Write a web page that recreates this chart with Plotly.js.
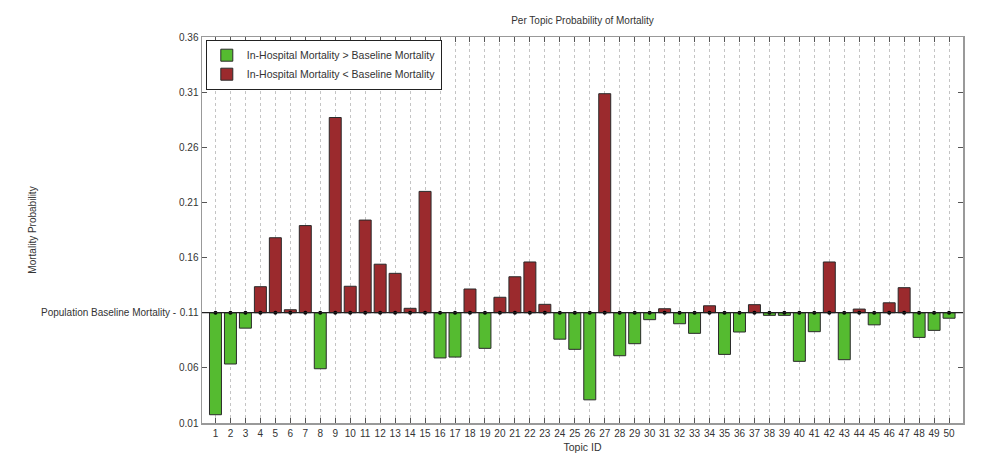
<!DOCTYPE html>
<html>
<head>
<meta charset="utf-8">
<script src="https://cdn.plot.ly/plotly-3.0.1.min.js"></script>
<style>html,body{margin:0;padding:0;background:#fff;}#chart{width:981px;height:455px;}</style>
</head>
<body>
<div id="chart"></div>
<script>
const topics = [];
for (let i = 1; i <= 50; i++) topics.push(i);
const mortality = [
  0.0175, 0.0635, 0.096, 0.1336, 0.178, 0.1127, 0.189, 0.0592, 0.287, 0.134,
  0.194, 0.154, 0.1457, 0.114, 0.220, 0.069, 0.0698, 0.1315, 0.0777, 0.124,
  0.1426, 0.156, 0.1176, 0.086, 0.0768, 0.031, 0.3086, 0.071, 0.0819, 0.1037,
  0.1136, 0.100, 0.0913, 0.1163, 0.0722, 0.0925, 0.1173, 0.1076, 0.1076, 0.0659,
  0.0928, 0.156, 0.0674, 0.1133, 0.099, 0.119, 0.1327, 0.0876, 0.094, 0.105
];
const baseline = 0.11;
const baselineLabel = 'Population Baseline Mortality -';
const yTickVals = [0.01, 0.06, 0.11, 0.16, 0.21, 0.26, 0.31, 0.36];
const yTickText = ['0.01', '0.06', '0.11', '0.16', '0.21', '0.26', '0.31', '0.36'];
const seriesNames = ['In-Hospital Mortality > Baseline Mortality', 'In-Hospital Mortality < Baseline Mortality'];

const lowX = [], lowY = [], highX = [], highY = [];
topics.forEach((t, i) => {
  const d = mortality[i] - baseline;
  if (d < 0) { lowX.push(t); lowY.push(d); } else { highX.push(t); highY.push(d); }
});

const barLine = {color: '#2a2a2a', width: 1};
const traces = [
  {type: 'bar', x: lowX, y: lowY, base: baseline, width: 0.8, name: seriesNames[0],
   marker: {color: '#55bb30', line: barLine}},
  {type: 'bar', x: highX, y: highY, base: baseline, width: 0.8, name: seriesNames[1],
   marker: {color: '#9b2a2d', line: barLine}},
  {type: 'scatter', mode: 'markers', x: topics, y: topics.map(() => baseline), showlegend: false,
   marker: {color: '#000', size: 4}, hoverinfo: 'skip'}
];

const fam = 'Liberation Sans, Arial, sans-serif';
const layout = {
  width: 981, height: 455,
  margin: {l: 202, r: 18, t: 37, b: 32, pad: 0},
  paper_bgcolor: '#fff', plot_bgcolor: '#fff',
  font: {family: fam, size: 10, color: '#333'},
  barmode: 'overlay',
  showlegend: true,
  title: {text: 'Per Topic Probability of Mortality', font: {family: fam, size: 10, color: '#333'},
          x: 0.5, xref: 'paper', y: 1, yref: 'container', yanchor: 'top', pad: {t: 17}},
  legend: {x: 0.005, y: 0.993, xanchor: 'left', yanchor: 'top', bgcolor: '#fff',
           bordercolor: '#222', borderwidth: 1, font: {family: fam, size: 10.5, color: '#333'},
           tracegroupgap: 0},
  xaxis: {range: [0.1, 50.93], tickmode: 'array', tickvals: topics, ticktext: topics.map(String),
          ticks: 'inside', ticklen: 5, tickcolor: '#555', mirror: 'ticks', showline: true, linecolor: '#999', linewidth: 1.5,
          showgrid: true, gridcolor: '#c4c4c4', griddash: 'dot', gridwidth: 1, zeroline: false,
          tickfont: {size: 10, color: '#333'},
          title: {text: 'Topic ID', font: {size: 10.5, color: '#333'}, standoff: 6}},
  yaxis: {range: [0.01, 0.36], tickmode: 'array', tickvals: yTickVals, ticktext: yTickText,
          ticks: 'inside', ticklen: 5, tickcolor: '#555', mirror: 'ticks', showline: true, linecolor: '#999', linewidth: 1.5,
          showgrid: false, zeroline: false, tickfont: {size: 10, color: '#333'},
          title: {text: 'Mortality Probability', font: {size: 10, color: '#333'}, standoff: 140}},
  shapes: [{type: 'line', xref: 'paper', x0: 0, x1: 1, yref: 'y', y0: baseline, y1: baseline,
            line: {color: '#222', width: 1.2}, layer: 'above'}],
  annotations: [{text: baselineLabel, xref: 'paper', x: 0, xanchor: 'right', xshift: -24,
                 yref: 'y', y: baseline, yanchor: 'middle', showarrow: false,
                 font: {family: fam, size: 10, color: '#333'}}]
};
Plotly.newPlot('chart', traces, layout, {displayModeBar: false, staticPlot: true});
</script>
</body>
</html>
